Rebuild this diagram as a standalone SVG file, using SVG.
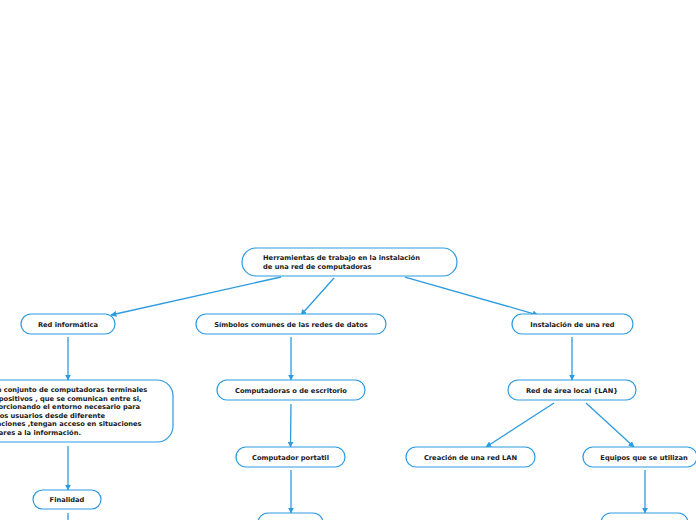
<svg xmlns="http://www.w3.org/2000/svg" width="696" height="520" viewBox="0 0 696 520">
<defs>
<marker id="ah" viewBox="0 0 10 10" refX="9" refY="5" markerWidth="6" markerHeight="6" orient="auto" markerUnits="userSpaceOnUse">
<path d="M0,0 L10,5 L0,10 z" fill="#2d9be0"/>
</marker>
<style>
.n{fill:#fff;stroke:#2d9be0;stroke-width:1.2}
.t{font-family:"DejaVu Sans",Verdana,sans-serif;font-weight:bold;font-size:6.7px;fill:#1a1a1a}
.c{text-anchor:middle}
.l{fill:none;stroke:#2d9be0;stroke-width:1.3;marker-end:url(#ah)}
</style>
</defs>
<rect width="696" height="520" fill="#fff"/>
<g id="connectors">
<line class="l" x1="281" y1="277" x2="111" y2="315"/>
<line class="l" x1="334" y1="278" x2="301" y2="315"/>
<line class="l" x1="405" y1="277" x2="538" y2="315"/>
<line class="l" x1="68" y1="337" x2="68" y2="380"/>
<line class="l" x1="68" y1="446" x2="68" y2="490"/>
<line class="l" x1="68" y1="513" x2="68" y2="530"/>
<line class="l" x1="291" y1="337" x2="291" y2="380"/>
<line class="l" x1="291" y1="404" x2="290.5" y2="447"/>
<line class="l" x1="291" y1="470" x2="291" y2="513"/>
<line class="l" x1="572" y1="337" x2="572" y2="380"/>
<line class="l" x1="554" y1="403" x2="486" y2="447"/>
<line class="l" x1="586" y1="403" x2="634" y2="447"/>
<line class="l" x1="645" y1="470" x2="645" y2="513"/>
</g>
<g id="root">
<rect class="n" x="242" y="248" width="215" height="28" rx="14"/>
<text class="t" x="263" y="260">Herramientas de trabajo en la instalación</text>
<text class="t" x="263" y="269">de una red de computadoras</text>
</g>
<g id="red-informatica">
<rect class="n" x="21" y="314" width="94" height="20" rx="10"/>
<text class="t c" x="68" y="326.5">Red informática</text>
</g>
<g id="definicion">
<rect class="n" x="-30" y="380" width="203" height="62" rx="16"/>
<text class="t" x="-19" y="392">Es un conjunto de computadoras terminales</text>
<text class="t" x="-19" y="400.5">y dispositivos , que se comunican entre si,</text>
<text class="t" x="-19" y="409">proporcionando el entorno necesario para</text>
<text class="t" x="-19" y="417.5">que los usuarios desde diferente</text>
<text class="t" x="-19" y="426">ubicaciones ,tengan acceso en situaciones</text>
<text class="t" x="-19" y="434.5">similares a la información.</text>
</g>
<g id="finalidad">
<rect class="n" x="33" y="490" width="68" height="19" rx="9.5"/>
<text class="t c" x="67" y="501.5">Finalidad</text>
</g>
<g id="simbolos">
<rect class="n" x="196" y="314" width="190" height="20" rx="10"/>
<text class="t c" x="291" y="326.5">Símbolos comunes de las redes de datos</text>
</g>
<g id="computadoras">
<rect class="n" x="217" y="380" width="148" height="20" rx="10"/>
<text class="t c" x="291" y="392.5">Computadoras o de escritorio</text>
</g>
<g id="portatil">
<rect class="n" x="236" y="447" width="109" height="20" rx="10"/>
<text class="t c" x="290.5" y="459.5">Computador portatil</text>
</g>
<g id="simbolo-3">
<rect class="n" x="258" y="513" width="65" height="20" rx="10"/>
</g>
<g id="instalacion">
<rect class="n" x="512" y="314" width="121" height="20" rx="10"/>
<text class="t c" x="572.5" y="326.5">Instalación de una red</text>
</g>
<g id="lan">
<rect class="n" x="508" y="380" width="128" height="20" rx="10"/>
<text class="t c" x="572" y="392.5">Red de área local {LAN}</text>
</g>
<g id="creacion">
<rect class="n" x="406" y="447" width="129" height="20" rx="10"/>
<text class="t c" x="470.5" y="459.5">Creación de una red LAN</text>
</g>
<g id="equipos">
<rect class="n" x="583" y="447" width="114" height="20" rx="10"/>
<text class="t c" x="644" y="459.5">Equipos que se utilizan</text>
</g>
<g id="equipos-hijo">
<rect class="n" x="601" y="513" width="87" height="20" rx="10"/>
</g>
</svg>
